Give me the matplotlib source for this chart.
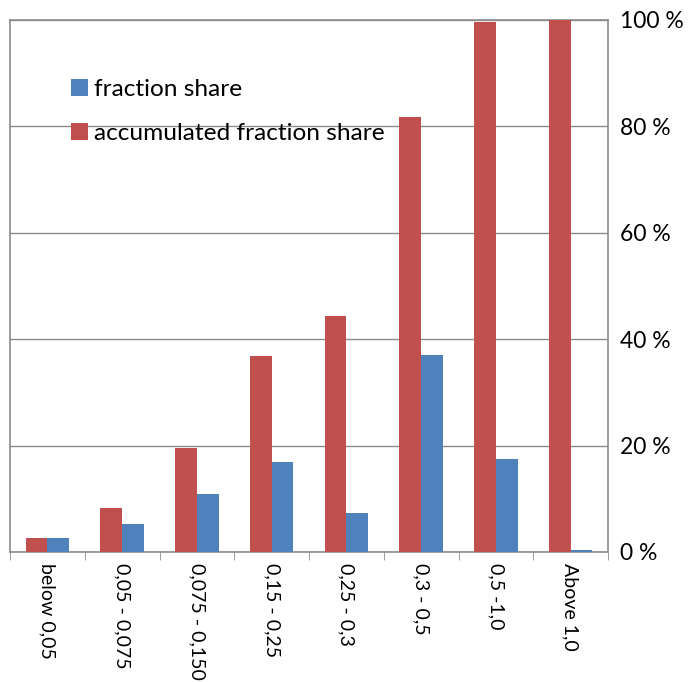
import matplotlib
matplotlib.use("Agg")
import matplotlib.pyplot as plt
import numpy as np

categories = ["below 0,05", "0,05 - 0,075", "0,075 - 0,150", "0,15 - 0,25",
              "0,25 - 0,3", "0,3 - 0,5", "0,5 -1,0", "Above 1,0"]
accumulated = [2.6, 8.3, 19.5, 36.8, 44.4, 81.8, 99.6, 100.0]
fraction = [2.6, 5.3, 10.9, 16.9, 7.3, 37.0, 17.5, 0.3]
yticks = [0, 20, 40, 60, 80, 100]
ytick_labels = ["0 %", "20 %", "40 %", "60 %", "80 %", "100 %"]

plt.rcParams['font.family'] = ['Lato', 'DejaVu Sans']

fig = plt.figure(figsize=(6.94, 6.82), dpi=100)
ax = fig.add_axes([10/694, 1 - 552/682, 598/694, 532/682])

x = np.arange(len(categories))
w = 0.29
red = "#c0504d"
blue = "#4f81bd"
ax.bar(x - w/2, accumulated, w, color=red, label="accumulated fraction share", zorder=3)
ax.bar(x + w/2, fraction, w, color=blue, label="fraction share", zorder=3)

ax.set_xlim(-0.5, len(categories) - 0.5)
ax.set_ylim(0, 100)
ax.yaxis.tick_right()
ax.set_yticks(yticks)
ax.set_yticklabels(ytick_labels, fontsize=16.5)
ax.tick_params(axis='y', length=0, pad=9)
ax.grid(axis='y', color='#8c8c8c', linewidth=1, zorder=0)

ax.set_xticks(x)
ax.set_xticklabels(categories, rotation=-90, fontsize=14, va='top', ha='center')
ax.tick_params(axis='x', length=0, pad=8)
ax.set_xticks(np.arange(len(categories) + 1) - 0.5, minor=True)
ax.tick_params(axis='x', which='minor', length=6, color='#8c8c8c', direction='out')

for s in ax.spines.values():
    s.set_color('#8c8c8c')
    s.set_linewidth(1.2)

h, l = ax.get_legend_handles_labels()
ax.legend(h[::-1], l[::-1], loc='upper left', bbox_to_anchor=(0.085, 0.908),
          borderaxespad=0, frameon=False, fontsize=17.6, handlelength=0.7,
          handleheight=0.7, handletextpad=0.25, labelspacing=0.95)

fig.savefig("out.png", dpi=100)
